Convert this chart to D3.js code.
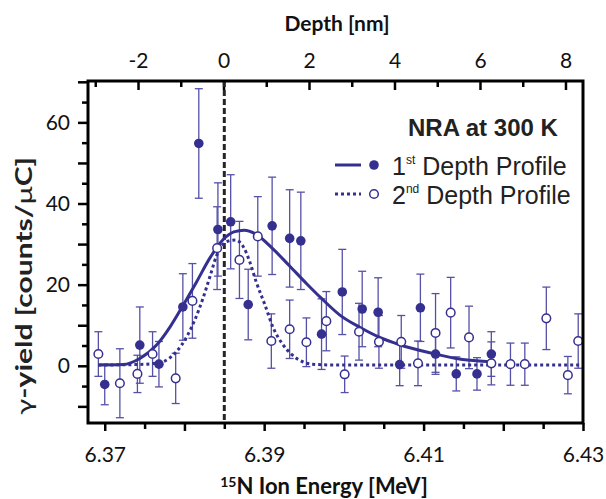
<!DOCTYPE html>
<html>
<head>
<meta charset="utf-8">
<script src="https://cdn.jsdelivr.net/npm/d3@7"></script>
<style>
  body { margin: 0; background: #fff; }
  svg { display: block; }
  .tick text { font-family: Lato, "Open Sans", sans-serif; font-size: 21px; fill: #111; }
</style>
</head>
<body>
<svg id="chart" width="606" height="499"></svg>
<script>
'use strict';

// 1st depth profile (filled circles)
const energy1 = [6.3700, 6.3744, 6.3768, 6.3798, 6.3818, 6.3842, 6.3858, 6.3880, 6.3910, 6.3932, 6.3946,
                 6.3972, 6.3998, 6.4023, 6.4043, 6.4070, 6.4096, 6.4115, 6.4141, 6.4167, 6.4185]
const yield1 = [-4.6, 5.1, 0.4, 14.5, 54.8, 33.6, 35.5, 15.1, 34.5, 31.4, 30.8,
                7.8, 18.2, 14.0, 13.2, 0.3, 14.3, 2.9, -2.0, -2.0, 2.9]
const err1 = [5.0, 9.4, 5.6, 8.2, 13.5, 11.5, 11.6, 8.7, 12.0, 12.0, 12.0,
              8.7, 10.5, 9.3, 8.5, 5.2, 8.3, 5.0, 4.2, 4.0, 5.5]

// 2nd depth profile (open circles)
const energy2 = [6.3692, 6.3719, 6.3741, 6.3760, 6.3789, 6.3810, 6.3841, 6.3869, 6.3892, 6.3909, 6.3932,
                 6.3953, 6.3978, 6.4001, 6.4019, 6.4044, 6.4072, 6.4093, 6.4115, 6.4134, 6.4157,
                 6.4185, 6.4209, 6.4227, 6.4254, 6.4281, 6.4294]
const yield2 = [2.9, -4.3, -2.0, 2.9, -3.1, 16.0, 29.0, 26.1, 31.9, 6.1, 9.0,
                5.8, 11.0, -2.1, 8.4, 5.9, 5.9, 0.6, 8.1, 13.1, 7.0,
                0.6, 0.4, 0.4, 11.7, -2.3, 6.1]
const err2 = [5.5, 8.5, 4.6, 5.5, 6.2, 9.2, 10.2, 9.5, 9.8, 6.7, 7.2,
              6.0, 7.3, 4.5, 7.0, 6.5, 6.5, 5.5, 9.7, 8.7, 7.7,
              5.3, 5.2, 5.2, 7.7, 4.6, 6.7]

// fitted profiles
const fitE1 = [6.3692, 6.3723, 6.3744, 6.3765, 6.3782, 6.3798, 6.3815, 6.3832, 6.3848, 6.3862, 6.3875,
               6.3890, 6.3911, 6.3932, 6.3953, 6.3972, 6.3995, 6.4020, 6.4045, 6.4070, 6.4108, 6.4141, 6.4183]
const fitY1 = [0.2, 0.3, 1.8, 5.1, 9.6, 14.8, 20.6, 26.6, 31.0, 33.0, 33.4,
               32.4, 28.8, 24.6, 20.3, 16.6, 12.5, 9.5, 7.0, 5.2, 3.2, 1.8, 1.0]
const fitE2 = [6.3692, 6.3740, 6.3769, 6.3790, 6.3803, 6.3813, 6.3823, 6.3832, 6.3840, 6.3853, 6.3864,
               6.3874, 6.3882, 6.3890, 6.3901, 6.3911, 6.3924, 6.3941, 6.3960, 6.3985, 6.4300]
const fitY2 = [0.2, 0.3, 0.8, 3.5, 7.2, 11.3, 16.5, 22.0, 27.0, 30.6, 31.0,
               29.3, 25.6, 20.7, 15.0, 9.5, 5.1, 1.8, 0.4, 0.2, 0.2]

// ticks
const energyMajor = [6.37, 6.38, 6.39, 6.40, 6.41, 6.42, 6.43]
const energyMinor = [6.375, 6.385, 6.395, 6.405, 6.415, 6.425]
const energyLabels = [6.37, 6.39, 6.41, 6.43]
const depthMajor = [-2, 0, 2, 4, 6, 8]
const depthMinor = [-3, -1, 1, 3, 5, 7]
const yieldMajor = [-10, 0, 10, 20, 30, 40, 50, 60, 70]
const yieldMinor = [-5, 5, 15, 25, 35, 45, 55, 65]
const yieldLabels = [0, 20, 40, 60]
const surfaceEnergy = 6.385

const markColor = '#35308f'
const errColor = '#5551a6'

let svg = d3.select('#chart')
let plotLeft = 88, plotRight = 583, plotTop = 81, plotBottom = 423

let x = d3.scaleLinear().domain([6.3679, 6.43]).range([plotLeft, plotRight])
let xDepth = d3.scaleLinear().domain([-3.17, 8.41]).range([plotLeft, plotRight])
let y = d3.scaleLinear().domain([-14.1, 70.2]).range([plotBottom, plotTop])

function styleAxis(g, width) {
    g.select('.domain').remove()
    g.selectAll('.tick line').attr('stroke', '#000').attr('stroke-width', width)
}

// bottom energy axis
svg.append('g')
    .attr('transform', 'translate(0,' + plotBottom + ')')
    .call(d3.axisBottom(x).tickValues(energyMinor).tickSize(6).tickFormat(''))
    .call(g => styleAxis(g, 2.5))
svg.append('g')
    .attr('transform', 'translate(0,' + plotBottom + ')')
    .call(d3.axisBottom(x).tickValues(energyMajor).tickSize(8).tickPadding(16)
        .tickFormat(d => energyLabels.some(v => Math.abs(v - d) < 1e-9) ? d3.format('.2f')(d) : ''))
    .call(g => styleAxis(g, 2.5))

// top depth axis, ticks inward
svg.append('g')
    .attr('transform', 'translate(0,' + plotTop + ')')
    .call(d3.axisTop(xDepth).tickValues(depthMinor).tickSizeInner(-6).tickSizeOuter(0).tickFormat(''))
    .call(g => styleAxis(g, 2.5))
svg.append('g')
    .attr('transform', 'translate(0,' + plotTop + ')')
    .call(d3.axisTop(xDepth).tickValues(depthMajor).tickSizeInner(-9).tickSizeOuter(0).tickPadding(13)
        .tickFormat(d => d < 0 ? '-' + Math.abs(d) : d))
    .call(g => styleAxis(g, 2.5))

// left yield axis
svg.append('g')
    .attr('transform', 'translate(' + plotLeft + ',0)')
    .call(d3.axisLeft(y).tickValues(yieldMinor).tickSize(6).tickFormat(''))
    .call(g => styleAxis(g, 2.5))
svg.append('g')
    .attr('transform', 'translate(' + plotLeft + ',0)')
    .call(d3.axisLeft(y).tickValues(yieldMajor).tickSize(10).tickPadding(8)
        .tickFormat(d => yieldLabels.includes(d) ? d : ''))
    .call(g => styleAxis(g, 2.5))

// surface marker
svg.append('line')
    .attr('x1', x(surfaceEnergy)).attr('x2', x(surfaceEnergy))
    .attr('y1', plotTop).attr('y2', plotBottom)
    .attr('stroke', '#262626').attr('stroke-width', 3)
    .attr('stroke-dasharray', '6,3')

let series1 = energy1.map((e, i) => ({e: e, v: yield1[i], s: err1[i]}))
let series2 = energy2.map((e, i) => ({e: e, v: yield2[i], s: err2[i]}))

function drawErrorBars(data) {
    let g = svg.append('g')
        .attr('stroke', errColor)
        .attr('stroke-width', 1.3)
        .attr('fill', 'none')
    let bars = g.selectAll('g').data(data).enter().append('g')
    bars.append('line')
        .attr('x1', d => x(d.e)).attr('x2', d => x(d.e))
        .attr('y1', d => y(d.v - d.s)).attr('y2', d => y(d.v + d.s))
    bars.append('line')
        .attr('x1', d => x(d.e) - 4).attr('x2', d => x(d.e) + 4)
        .attr('y1', d => y(d.v + d.s)).attr('y2', d => y(d.v + d.s))
    bars.append('line')
        .attr('x1', d => x(d.e) - 4).attr('x2', d => x(d.e) + 4)
        .attr('y1', d => y(d.v - d.s)).attr('y2', d => y(d.v - d.s))
}
drawErrorBars(series1)
drawErrorBars(series2)

let line = d3.line()
    .x(d => x(d[0]))
    .y(d => y(d[1]))
    .curve(d3.curveMonotoneX)

svg.append('path')
    .datum(d3.zip(fitE2, fitY2))
    .attr('d', line)
    .attr('fill', 'none')
    .attr('stroke', markColor)
    .attr('stroke-width', 3)
    .attr('stroke-dasharray', '3,3')

svg.append('path')
    .datum(d3.zip(fitE1, fitY1))
    .attr('d', line)
    .attr('fill', 'none')
    .attr('stroke', markColor)
    .attr('stroke-width', 3)

svg.append('g').selectAll('circle').data(series2).enter().append('circle')
    .attr('cx', d => x(d.e)).attr('cy', d => y(d.v)).attr('r', 4.3)
    .attr('fill', '#fff').attr('stroke', markColor).attr('stroke-width', 1.5)

svg.append('g').selectAll('circle').data(series1).enter().append('circle')
    .attr('cx', d => x(d.e)).attr('cy', d => y(d.v)).attr('r', 4.8)
    .attr('fill', markColor)

// frame
svg.append('rect')
    .attr('x', plotLeft).attr('y', plotTop)
    .attr('width', plotRight - plotLeft).attr('height', plotBottom - plotTop)
    .attr('fill', 'none').attr('stroke', '#000').attr('stroke-width', 3)

// legend
let legend = svg.append('g')
legend.append('text')
    .attr('x', 408).attr('y', 136)
    .attr('font-family', '"Liberation Sans", Arial, sans-serif')
    .attr('font-weight', 'bold').attr('font-size', 24).attr('fill', '#222')
    .text('NRA at 300 K')

let legendRows = [
    {y: 165, dash: null, filled: true, num: '1', sup: 'st'},
    {y: 194, dash: '3,3', filled: false, num: '2', sup: 'nd'}
]
legendRows.forEach(r => {
    legend.append('line')
        .attr('x1', 335).attr('x2', 361).attr('y1', r.y).attr('y2', r.y)
        .attr('stroke', markColor).attr('stroke-width', 3)
        .attr('stroke-dasharray', r.dash)
    legend.append('circle')
        .attr('cx', 374).attr('cy', r.y).attr('r', r.filled ? 4.8 : 4.3)
        .attr('fill', r.filled ? markColor : '#fff')
        .attr('stroke', markColor).attr('stroke-width', r.filled ? 0 : 1.5)
    let t = legend.append('text')
        .attr('x', 392).attr('y', r.y + 10)
        .attr('font-family', '"Liberation Sans", Arial, sans-serif')
        .attr('font-size', 25).attr('fill', '#222')
    t.append('tspan').text(r.num)
    t.append('tspan').attr('font-size', 12).attr('dy', -11).text(r.sup)
    t.append('tspan').attr('dy', 11).text(' Depth Profile')
})

// axis titles
svg.append('text')
    .attr('x', 337).attr('y', 31)
    .attr('text-anchor', 'middle')
    .attr('font-family', 'Lato, sans-serif').attr('font-weight', 'bold').attr('font-size', 21)
    .attr('fill', '#111')
    .text('Depth [nm]')

let xTitle = svg.append('text')
    .attr('x', 324).attr('y', 494)
    .attr('text-anchor', 'middle')
    .attr('font-family', 'Lato, sans-serif').attr('font-weight', 'bold').attr('font-size', 22)
    .attr('fill', '#111')
xTitle.append('tspan').attr('font-size', 14).attr('dy', -7).text('15')
xTitle.append('tspan').attr('dy', 7).text('N Ion Energy [MeV]')

let yTitle = svg.append('text')
    .attr('transform', 'translate(32,286) rotate(-90)')
    .attr('text-anchor', 'middle')
    .attr('font-family', 'Lato, sans-serif').attr('font-size', 22)
    .attr('fill', '#222')
    .attr('textLength', 258).attr('lengthAdjust', 'spacingAndGlyphs')
yTitle.append('tspan').attr('font-weight', 'normal').text('γ')
yTitle.append('tspan').attr('font-weight', 'bold').text('-yield [counts/')
yTitle.append('tspan').attr('font-weight', 'normal').text('μ')
yTitle.append('tspan').attr('font-weight', 'bold').text('C]')
</script>
</body>
</html>
